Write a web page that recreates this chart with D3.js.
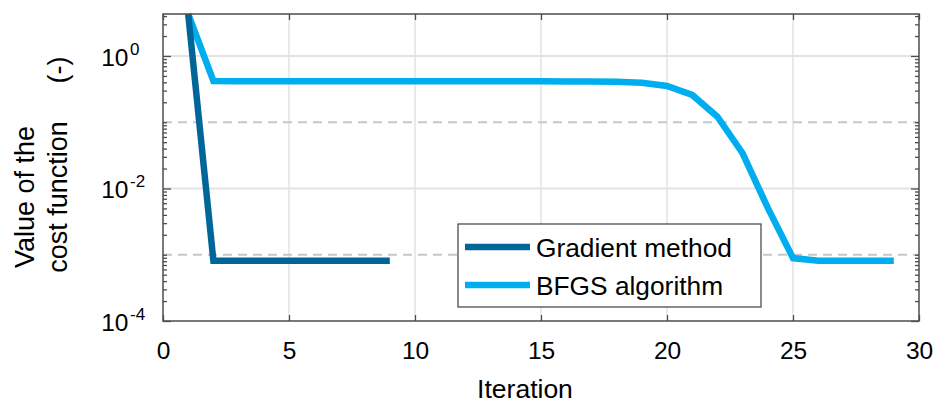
<!DOCTYPE html>
<html>
<head>
<meta charset="utf-8">
<script src="https://cdn.jsdelivr.net/npm/d3@7"></script>
<style>
  body { margin: 0; background: #fff; }
  text { font-family: "Liberation Sans", Arial, sans-serif; fill: #000; }
</style>
</head>
<body>
<svg id="chart" width="940" height="403"></svg>
<script>
// ---- data ----
const gradientIter = [1, 2, 3, 4, 5, 6, 7, 8, 9];
const gradientCost = [4.3, 8.1e-4, 8.1e-4, 8.1e-4, 8.1e-4, 8.1e-4, 8.1e-4, 8.1e-4, 8.1e-4];
const bfgsIter = [1, 2, 3, 4, 5, 6, 7, 8, 9, 10, 11, 12, 13, 14, 15, 16, 17, 18, 19, 20, 21, 22, 23, 24, 25, 26, 27, 28, 29];
const bfgsCost = [4.3, 0.42, 0.415, 0.415, 0.415, 0.415, 0.415, 0.415, 0.415, 0.415, 0.415, 0.415, 0.415, 0.415, 0.414, 0.413, 0.412, 0.408, 0.395, 0.353, 0.258, 0.121, 0.034, 0.0051, 8.9e-4, 8.1e-4, 8.1e-4, 8.1e-4, 8.1e-4];
const seriesNames = ["Gradient method", "BFGS algorithm"];
const xTicks = [0, 5, 10, 15, 20, 25, 30];
const yMajorTicks = [1, 1e-2, 1e-4];
const yDashedGrid = [1e-1, 1e-3];
const xLabel = "Iteration";
const yLabelLines = ["Value of the", "cost function", "(-)"];

// ---- layout ----
const svg = d3.select("#chart");
const L = 163, R = 919, T = 14, B = 321;
const colors = ["#006699", "#00AEEF"];

const x = d3.scaleLinear().domain([0, 30]).range([L, R]);
const yMax = d3.max([...gradientCost, ...bfgsCost]);
const y = d3.scaleLog().domain([1e-4, yMax]).range([B, T]);

// minor ticks
const minorTicks = [];
for (let e = -4; e <= 0; e++) {
  for (let m = 1; m <= 9; m++) {
    const v = m * Math.pow(10, e);
    if (v <= yMax && !yMajorTicks.includes(v)) minorTicks.push(v);
  }
}

// grid: vertical
svg.append("g").selectAll("line").data(xTicks.filter(d => d > 0 && d < 30)).join("line")
  .attr("x1", d => x(d)).attr("x2", d => x(d)).attr("y1", T).attr("y2", B)
  .attr("stroke", "#e3e3e3").attr("stroke-width", 1.5);
// grid: horizontal solid
svg.append("g").selectAll("line").data(yMajorTicks.filter(d => d > 1e-4)).join("line")
  .attr("x1", L).attr("x2", R).attr("y1", d => y(d)).attr("y2", d => y(d))
  .attr("stroke", "#e3e3e3").attr("stroke-width", 2);
// grid: horizontal dashed
svg.append("g").selectAll("line").data(yDashedGrid).join("line")
  .attr("x1", L).attr("x2", R).attr("y1", d => y(d)).attr("y2", d => y(d))
  .attr("stroke", "#c8c8c8").attr("stroke-width", 2).attr("stroke-dasharray", "9,6");

// clip
svg.append("clipPath").attr("id", "clip").append("rect")
  .attr("x", L).attr("y", T - 1).attr("width", R - L).attr("height", B - T + 1);

const line = d3.line().x(d => x(d[0])).y(d => y(d[1]));
const series = [
  gradientIter.map((d, i) => [d, gradientCost[i]]),
  bfgsIter.map((d, i) => [d, bfgsCost[i]])
];
svg.append("g").attr("clip-path", "url(#clip)")
  .selectAll("path").data([1, 0]).join("path")
  .attr("d", i => line(series[i]))
  .attr("fill", "none").attr("stroke", i => colors[i])
  .attr("stroke-width", 6.5).attr("stroke-linejoin", "miter").attr("stroke-linecap", "butt");

// axes
const axisColor = "#4d4d4d";
const gx = svg.append("g").attr("transform", `translate(0,${B})`)
  .call(d3.axisBottom(x).tickValues(xTicks).tickSize(-6).tickPadding(21).tickSizeOuter(0));
const gxTop = svg.append("g").attr("transform", `translate(0,${T})`)
  .call(d3.axisTop(x).tickValues(xTicks).tickSize(-6).tickFormat("").tickSizeOuter(0));
const gyL = svg.append("g").attr("transform", `translate(${L},0)`)
  .call(d3.axisLeft(y).tickValues(yMajorTicks).tickSize(-8).tickFormat("").tickSizeOuter(0));
const gyLm = svg.append("g").attr("transform", `translate(${L},0)`)
  .call(d3.axisLeft(y).tickValues(minorTicks).tickSize(-4).tickFormat("").tickSizeOuter(0));
const gyR = svg.append("g").attr("transform", `translate(${R},0)`)
  .call(d3.axisRight(y).tickValues(yMajorTicks).tickSize(-8).tickFormat("").tickSizeOuter(0));
const gyRm = svg.append("g").attr("transform", `translate(${R},0)`)
  .call(d3.axisRight(y).tickValues(minorTicks).tickSize(-4).tickFormat("").tickSizeOuter(0));
[gx, gxTop, gyL, gyLm, gyR, gyRm].forEach(g => {
  g.selectAll("path.domain").remove();
  g.selectAll("line").attr("stroke", axisColor).attr("stroke-width", 1.3);
});
gx.selectAll("text").attr("font-size", 24.5).attr("font-family", "Liberation Sans, Arial, sans-serif").attr("fill", "#000");

// box
svg.append("rect").attr("x", L).attr("y", T).attr("width", R - L).attr("height", B - T)
  .attr("fill", "none").attr("stroke", axisColor).attr("stroke-width", 1.5);

// y tick labels with superscripts
const yl = svg.append("g");
yMajorTicks.forEach(v => {
  const e = Math.round(Math.log10(v));
  yl.append("text").attr("x", 128.5).attr("y", y(v) + 10).attr("text-anchor", "end")
    .attr("font-size", 24.5).text("10");
  yl.append("text").attr("x", 130).attr("y", y(v) - 1).attr("text-anchor", "start")
    .attr("font-size", 17).text(e === 0 ? "0" : "-" + Math.abs(e));
});

// axis labels
svg.append("text").attr("x", 525).attr("y", 398).attr("text-anchor", "middle")
  .attr("font-size", 26.5).text(xLabel);
svg.append("text").attr("transform", "translate(34,197) rotate(-90)").attr("text-anchor", "middle")
  .attr("font-size", 27).text(yLabelLines[0]);
svg.append("text").attr("transform", "translate(67,197) rotate(-90)").attr("text-anchor", "middle")
  .attr("font-size", 27).text(yLabelLines[1]);
svg.append("text").attr("transform", "translate(67,70) rotate(-90)").attr("text-anchor", "middle")
  .attr("font-size", 27).text(yLabelLines[2]);

// legend
const lg = svg.append("g");
lg.append("rect").attr("x", 458).attr("y", 224).attr("width", 303).attr("height", 83)
  .attr("fill", "#fff").attr("stroke", axisColor).attr("stroke-width", 1.3);
seriesNames.forEach((n, i) => {
  const yy = 247 + i * 38;
  lg.append("line").attr("x1", 465).attr("x2", 530).attr("y1", yy).attr("y2", yy)
    .attr("stroke", colors[i]).attr("stroke-width", 6.5);
  lg.append("text").attr("x", 536).attr("y", yy + 9.5).attr("font-size", 26.3).text(n);
});
</script>
</body>
</html>
